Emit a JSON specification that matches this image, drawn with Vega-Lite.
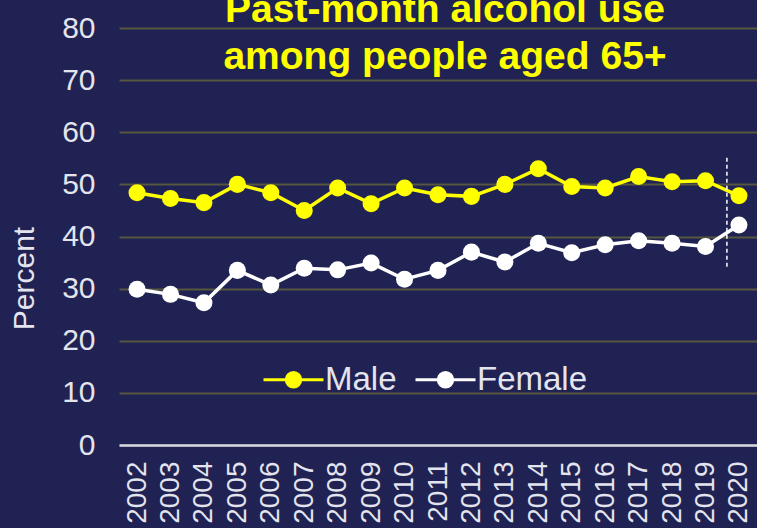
{
  "$schema": "https://vega.github.io/schema/vega-lite/v6.json",
  "width": 638,
  "height": 417,
  "autosize": {"type": "none"},
  "padding": {"left": 119, "top": 28, "right": 0, "bottom": 83},
  "background": "#1f2252",
  "config": {
    "view": {"stroke": null},
    "font": "Liberation Sans",
    "axis": {"labelOverlap": false}
  },
  "title": {
    "text": ["Past-month alcohol use", "among people aged 65+"],
    "color": "#ffff00",
    "font": "Liberation Sans",
    "fontSize": 39,
    "fontWeight": "bold",
    "anchor": "middle",
    "lineHeight": 47,
    "offset": -64,
    "dx": 7
  },
  "layer": [
    {
      "data": {
        "values": [
          {"year": 2002, "sex": "Male", "pct": 48.4},
          {"year": 2003, "sex": "Male", "pct": 47.3},
          {"year": 2004, "sex": "Male", "pct": 46.5},
          {"year": 2005, "sex": "Male", "pct": 50.0},
          {"year": 2006, "sex": "Male", "pct": 48.4},
          {"year": 2007, "sex": "Male", "pct": 45.0},
          {"year": 2008, "sex": "Male", "pct": 49.3},
          {"year": 2009, "sex": "Male", "pct": 46.3},
          {"year": 2010, "sex": "Male", "pct": 49.3},
          {"year": 2011, "sex": "Male", "pct": 48.0},
          {"year": 2012, "sex": "Male", "pct": 47.7},
          {"year": 2013, "sex": "Male", "pct": 50.0},
          {"year": 2014, "sex": "Male", "pct": 53.0},
          {"year": 2015, "sex": "Male", "pct": 49.6},
          {"year": 2016, "sex": "Male", "pct": 49.3},
          {"year": 2017, "sex": "Male", "pct": 51.5},
          {"year": 2018, "sex": "Male", "pct": 50.5},
          {"year": 2019, "sex": "Male", "pct": 50.7},
          {"year": 2020, "sex": "Male", "pct": 47.8},
          {"year": 2002, "sex": "Female", "pct": 29.9},
          {"year": 2003, "sex": "Female", "pct": 28.9},
          {"year": 2004, "sex": "Female", "pct": 27.3},
          {"year": 2005, "sex": "Female", "pct": 33.5},
          {"year": 2006, "sex": "Female", "pct": 30.7},
          {"year": 2007, "sex": "Female", "pct": 33.9},
          {"year": 2008, "sex": "Female", "pct": 33.6},
          {"year": 2009, "sex": "Female", "pct": 34.9},
          {"year": 2010, "sex": "Female", "pct": 31.8},
          {"year": 2011, "sex": "Female", "pct": 33.5},
          {"year": 2012, "sex": "Female", "pct": 37.0},
          {"year": 2013, "sex": "Female", "pct": 35.1},
          {"year": 2014, "sex": "Female", "pct": 38.7},
          {"year": 2015, "sex": "Female", "pct": 36.9},
          {"year": 2016, "sex": "Female", "pct": 38.4},
          {"year": 2017, "sex": "Female", "pct": 39.2},
          {"year": 2018, "sex": "Female", "pct": 38.7},
          {"year": 2019, "sex": "Female", "pct": 38.1},
          {"year": 2020, "sex": "Female", "pct": 42.2}
        ]
      },
      "mark": {"type": "line", "strokeWidth": 3.5, "point": {"filled": true, "size": 290, "opacity": 1}},
      "encoding": {
        "x": {
          "field": "year",
          "type": "quantitative",
          "scale": {"domain": [2001.46, 2020.54], "nice": false, "zero": false},
          "axis": {
            "title": null,
            "values": [2002,2003,2004,2005,2006,2007,2008,2009,2010,2011,2012,2013,2014,2015,2016,2017,2018,2019,2020],
            "tickCount": 19,
            "format": "d",
            "labelAngle": -90,
            "labelAlign": "right",
            "labelBaseline": "middle",
            "labelFontSize": 28,
            "labelColor": "#e4e4ee",
            "labelPadding": 16,
            "labelFlush": false,
            "labelOverlap": false,
            "labelSeparation": 0,
            "ticks": false,
            "grid": false,
            "domain": true,
            "domainColor": "#d8d8e4",
            "domainWidth": 2.5
          }
        },
        "y": {
          "field": "pct",
          "type": "quantitative",
          "scale": {"domain": [0, 80], "nice": false},
          "axis": {
            "title": "Percent",
            "titleFontSize": 30,
            "titleFontWeight": "normal",
            "titleColor": "#e4e4ee",
            "titlePadding": 22,
            "titleY": 250,
            "values": [0,10,20,30,40,50,60,70,80],
            "labelFontSize": 30,
            "labelColor": "#e4e4ee",
            "labelPadding": 24,
            "ticks": false,
            "domain": false,
            "grid": true,
            "gridColor": "#57573f",
            "gridWidth": 2
          }
        },
        "color": {
          "field": "sex",
          "type": "nominal",
          "scale": {"domain": ["Male", "Female"], "range": ["#ffff00", "#ffffff"]},
          "legend": {
            "title": null,
            "orient": "none",
            "direction": "horizontal",
            "legendX": 143,
            "legendY": 320,
            "padding": 0,
            "symbolType": "M-1,0L1,0M0.24,0A0.24,0.24,0,1,1,-0.24,0A0.24,0.24,0,1,1,0.24,0",
            "symbolSize": 3600,
            "symbolStrokeWidth": 3,
            "labelFontSize": 33,
            "labelColor": "#e4e4ee",
            "labelOffset": 0,
            "columnPadding": 12,
            "encode": {
              "symbols": {
                "update": {
                  "fill": {"scale": "color", "field": "value"},
                  "stroke": {"scale": "color", "field": "value"},
                  "opacity": {"value": 1}
                }
              }
            }
          }
        }
      }
    },
    {
      "data": {"values": [{"year": 2019.64, "top": 55.1, "bottom": 34.0}]},
      "mark": {"type": "rule", "color": "#ffffff", "strokeWidth": 1.5, "strokeDash": [4, 3]},
      "encoding": {
        "x": {"field": "year", "type": "quantitative"},
        "y": {"field": "top", "type": "quantitative"},
        "y2": {"field": "bottom"}
      }
    }
  ]
}
